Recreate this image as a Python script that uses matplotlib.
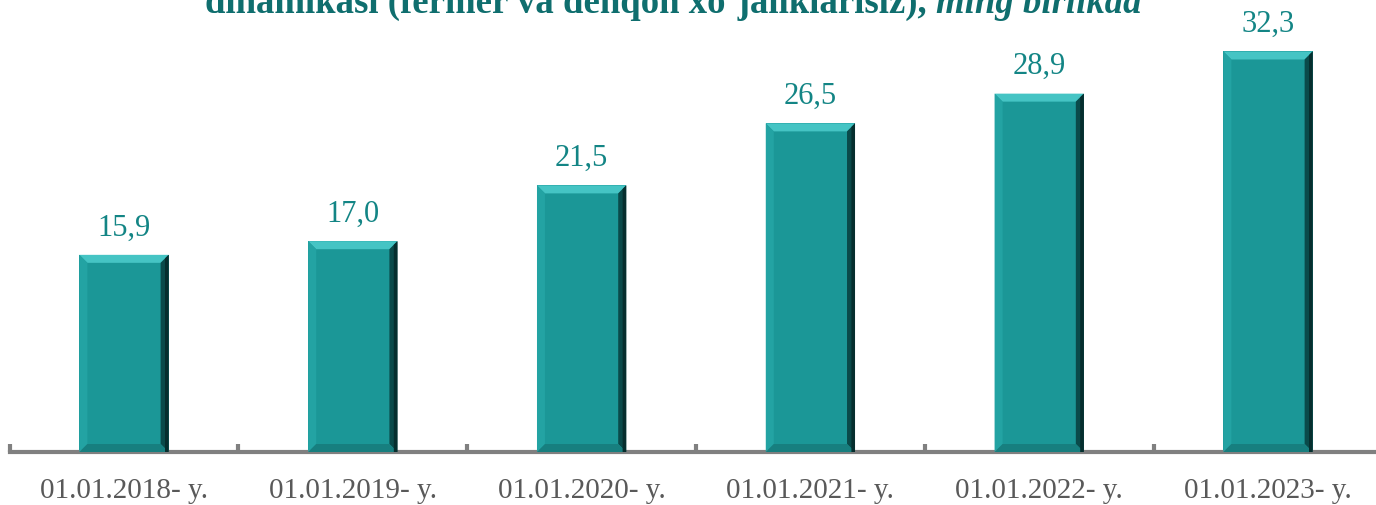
import matplotlib
matplotlib.use("Agg")
import matplotlib.pyplot as plt
from matplotlib.patches import Polygon

categories = ["01.01.2018- y.", "01.01.2019- y.", "01.01.2020- y.",
              "01.01.2021- y.", "01.01.2022- y.", "01.01.2023- y."]
values = [15.9, 17.0, 21.5, 26.5, 28.9, 32.3]
value_labels = ["15,9", "17,0", "21,5", "26,5", "28,9", "32,3"]
title_main = "dinamikasi (fermer va dehqon xo\u2018jaliklarisiz), "
title_unit = "ming birlikda"

W, H = 1376, 505
fig = plt.figure(figsize=(W / 100, H / 100), dpi=100)
fig.patch.set_facecolor("white")

left_px, right_px = 9.6, 1382.4
base_px, top_px = 452, 18
ax = fig.add_axes([left_px / W, (H - base_px) / H,
                   (right_px - left_px) / W, (base_px - top_px) / H])
ax.set_xlim(-0.5, len(categories) - 0.5)
ax.set_ylim(0, 35)

serif = ["Liberation Serif", "DejaVu Serif"]
face = "#1b9797"
bw = 0.39
x = list(range(len(categories)))
ax.bar(x, values, width=bw, color=face, edgecolor="none", zorder=2)

# bevel effect
bx = 8 / 228.8          # bevel width in x data units
by = 8 / 12.4           # bevel height in y data units
for xi, v in zip(x, values):
    l, r = xi - bw / 2, xi + bw / 2
    polys = [
        ([(l, v), (r, v), (r - bx, v - by), (l + bx, v - by)], "#45c4c4"),   # top
        ([(l, 0), (l, v), (l + bx, v - by), (l + bx, by)], "#23a3a3"),       # left
        ([(r, 0), (r, v), (r - bx, v - by), (r - bx, by)], "#0a4a4a"),       # right
        ([(l, 0), (r, 0), (r - bx, by), (l + bx, by)], "#177f7f"),           # bottom
    ]
    for pts, c in polys:
        ax.add_patch(Polygon(pts, closed=True, facecolor=c, edgecolor="none", zorder=3))
    ax.add_patch(Polygon([(r - bx * 0.45, 0), (r, 0), (r, v), (r - bx * 0.45, v - by * 0.45)],
                         closed=True, facecolor="#062e2e", edgecolor="none", zorder=4))

for xi, v, lab in zip(x, values, value_labels):
    ax.annotate(lab, (xi, v), xytext=(0, 9), textcoords="offset points",
                ha="center", va="bottom", fontsize=22, color="#138585", family=serif)

for s in ["top", "right", "left"]:
    ax.spines[s].set_visible(False)
ax.spines["bottom"].set_color("#808080")
ax.spines["bottom"].set_linewidth(3)
ax.set_yticks([])
ax.set_xticks(x)
ax.set_xticklabels(categories, fontsize=21, color="#595959", family=serif)
ax.tick_params(axis="x", which="major", length=0, pad=19)
ax.set_xticks([i - 0.5 for i in range(len(categories) + 1)], minor=True)
ax.tick_params(axis="x", which="minor", direction="in", length=6, width=3, color="#808080")

title_y = 1 - 13 / H
t1 = fig.text(205 / W, title_y, title_main, ha="left", va="baseline",
              fontsize=26.5, fontweight="bold", color="#0f6e6e", family=serif)
fig.canvas.draw()
bb = t1.get_window_extent()
fig.text(bb.x1 / W, title_y, title_unit, ha="left", va="baseline", fontsize=26.5,
         fontweight="bold", style="italic", color="#0f6e6e", family=serif)

fig.savefig("out.png", dpi=100, facecolor="white")
